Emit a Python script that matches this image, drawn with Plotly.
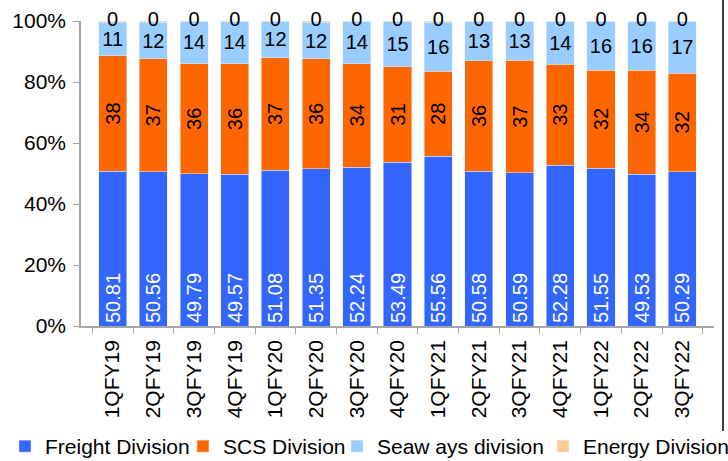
import plotly.graph_objects as go

quarters = ["1QFY19", "2QFY19", "3QFY19", "4QFY19", "1QFY20", "2QFY20", "3QFY20",
            "4QFY20", "1QFY21", "2QFY21", "3QFY21", "4QFY21", "1QFY22", "2QFY22", "3QFY22"]
freight = [50.81, 50.56, 49.79, 49.57, 51.08, 51.35, 52.24, 53.49, 55.56, 50.58, 50.59, 52.28, 51.55, 49.53, 50.29]
scs = [38, 37, 36, 36, 37, 36, 34, 31, 28, 36, 37, 33, 32, 34, 32]
seaways = [11, 12, 14, 14, 12, 12, 14, 15, 16, 13, 13, 14, 16, 16, 17]
energy = [0.4, 0.4, 0.0, 0.0, 0.0, 0.4, 0.0, 0.0, 0.4, 0.0, 0.0, 0.0, 0.0, 0.0, 0.0]
y_ticks = [0, 20, 40, 60, 80, 100]

FONT = "Liberation Sans, Arial, sans-serif"
W, H = 728, 461
ML, MR, MT, MB = 81, 14, 21, 135
pw = W - ML - MR
ph = H - MT - MB

fig = go.Figure()
fig.add_trace(go.Bar(
    name="Freight Division", x=quarters, y=freight, marker_color="#3366FF",
    text=[f"{v:.2f}" for v in freight], textposition="inside", insidetextanchor="start",
    textangle=-90, textfont=dict(color="white", size=20, family=FONT),
    constraintext="none", legend="legend",
))
fig.add_trace(go.Bar(
    name="SCS Division", x=quarters, y=scs, marker_color="#FF6600",
    text=[f"{v:.0f}" for v in scs], textposition="inside", insidetextanchor="middle",
    textangle=-90, textfont=dict(color="black", size=20, family=FONT),
    constraintext="none", legend="legend2",
))
fig.add_trace(go.Bar(
    name="Seaw ays division", x=quarters, y=seaways, marker_color="#99CCFF",
    text=[f"{v:.0f}" for v in seaways], textposition="inside", insidetextanchor="middle",
    textangle=0, textfont=dict(color="black", size=20, family=FONT),
    constraintext="none", legend="legend3",
))
fig.add_trace(go.Bar(
    name="Energy Division", x=quarters, y=energy, marker_color="#FFCC99",
    textposition="none", legend="legend4",
))
# value labels for the thin top segment, sitting on the 100% line
fig.add_trace(go.Scatter(
    x=quarters, y=[100] * len(quarters), mode="text",
    text=[f"{v:.0f}" for v in energy], textposition="middle center",
    textfont=dict(color="black", size=20, family=FONT),
    showlegend=False, hoverinfo="skip", cliponaxis=False,
))

# right-hand frame line
fig.add_shape(type="line", xref="paper", yref="paper",
              x0=(723 - ML) / pw, x1=(723 - ML) / pw,
              y0=-(MB - 30) / ph, y1=1 + MT / ph,
              line=dict(color="black", width=1.5))


def legend_at(px):
    return dict(
        orientation="h", xref="container", yref="paper",
        x=px / W, y=-(MB + 6) / ph, xanchor="left", yanchor="bottom",
        font=dict(size=21, family=FONT, color="black"), itemwidth=30,
        bgcolor="rgba(0,0,0,0)",
    )


fig.update_layout(
    width=W, height=H,
    margin=dict(l=ML, r=MR, t=MT, b=MB, autoexpand=False),
    barmode="stack", barnorm="percent", bargap=0.31,
    paper_bgcolor="white", plot_bgcolor="white",
    font=dict(family=FONT, size=21, color="black"),
    showlegend=True,
    legend=legend_at(5),
    legend2=legend_at(183),
    legend3=legend_at(337),
    legend4=legend_at(543),
    xaxis=dict(
        showline=True, linecolor="#A6A6A6", linewidth=1.5,
        ticks="outside", tickson="boundaries", ticklen=6, tickcolor="#A6A6A6",
        tickangle=-90, tickfont=dict(size=21, family=FONT), ticklabelstandoff=4,
        automargin=False,
    ),
    yaxis=dict(
        # a hair above 100 so stacks that sum to exactly 100% are not treated as clipped
        range=[0, 100.001], tickvals=y_ticks, ticktext=[f"{t}%" for t in y_ticks],
        showline=True, linecolor="#A6A6A6", linewidth=1.5,
        ticks="outside", ticklen=6, tickcolor="#A6A6A6",
        showgrid=False, zeroline=False, tickfont=dict(size=21, family=FONT),
        ticklabelstandoff=3, automargin=False,
    ),
)

fig.write_html("out.html")
